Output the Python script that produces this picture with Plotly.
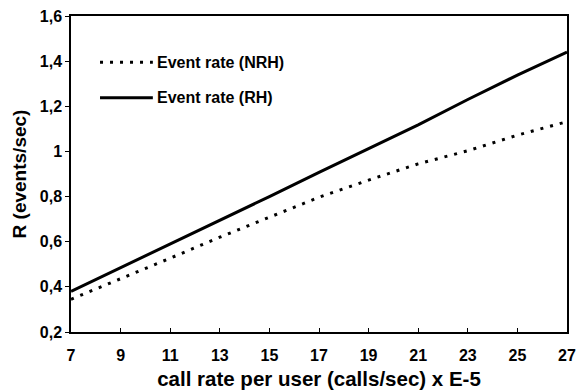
import plotly.graph_objects as go

# call rate per user (calls/sec, x 1E-5)
call_rate = [7, 9, 11, 13, 15, 17, 19, 21, 23, 25, 27]
# event rate R (events/sec)
rate_nrh = [0.345, 0.435, 0.527, 0.62, 0.708, 0.797, 0.873, 0.945, 1.003, 1.072, 1.132]
rate_rh = [0.38, 0.485, 0.588, 0.693, 0.80, 0.907, 1.012, 1.118, 1.23, 1.338, 1.44]

series_names = ["Event rate (NRH)", "Event rate (RH)"]

y_ticks = [0.2, 0.4, 0.6, 0.8, 1.0, 1.2, 1.4, 1.6]
y_tick_text = ["0,2", "0,4", "0,6", "0,8", "1", "1,2", "1,4", "1,6"]
x_ticks = [7, 9, 11, 13, 15, 17, 19, 21, 23, 25, 27]

FONT = "Liberation Sans, Arial, sans-serif"
DOT = "3px,7px"

fig = go.Figure()
fig.add_trace(go.Scatter(
    x=call_rate, y=rate_nrh, mode="lines", name=series_names[0],
    line=dict(color="black", width=3, dash=DOT),
))
fig.add_trace(go.Scatter(
    x=call_rate, y=rate_rh, mode="lines", name=series_names[1],
    line=dict(color="black", width=3),
))

# legend drawn inside the frame: key line + label per series
legend_rows = [(0.854, DOT, series_names[0]), (0.741, "solid", series_names[1])]
for ypos, dash, label in legend_rows:
    fig.add_shape(type="line", xref="paper", yref="paper",
                  x0=0.0585, x1=0.165, y0=ypos, y1=ypos,
                  line=dict(color="black", width=3, dash=dash))
    fig.add_annotation(xref="paper", yref="paper", x=0.17, y=ypos,
                       xanchor="left", yanchor="middle", showarrow=False,
                       text=label,
                       font=dict(size=16, weight="bold", family=FONT, color="black"))

fig.update_layout(
    width=577, height=390,
    margin=dict(l=71, r=10, t=16, b=58),
    paper_bgcolor="white", plot_bgcolor="white",
    font=dict(family=FONT, color="black", size=16, weight="bold"),
    showlegend=False,
    xaxis=dict(
        range=[7, 27], tickvals=x_ticks, ticks="inside", ticklen=4,
        tickcolor="black", showline=True, linecolor="black", linewidth=1.5,
        mirror=True, showgrid=False, zeroline=False, ticklabelstandoff=8,
        automargin=False,
        tickfont=dict(size=16, weight="bold", family=FONT),
        title=dict(text="call rate per user (calls/sec) x E-5",
                   font=dict(size=20.5, weight="bold", family=FONT), standoff=10),
    ),
    yaxis=dict(
        range=[0.2, 1.6], tickvals=y_ticks, ticktext=y_tick_text,
        ticks="outside", ticklen=4, tickcolor="black",
        showline=True, linecolor="black", linewidth=1.5, mirror=True,
        showgrid=False, zeroline=False, automargin=False,
        tickfont=dict(size=16, weight="bold", family=FONT),
        title=dict(text="R (events/sec)",
                   font=dict(size=19, weight="bold", family=FONT), standoff=8),
    ),
)

fig.write_html("out.html")
